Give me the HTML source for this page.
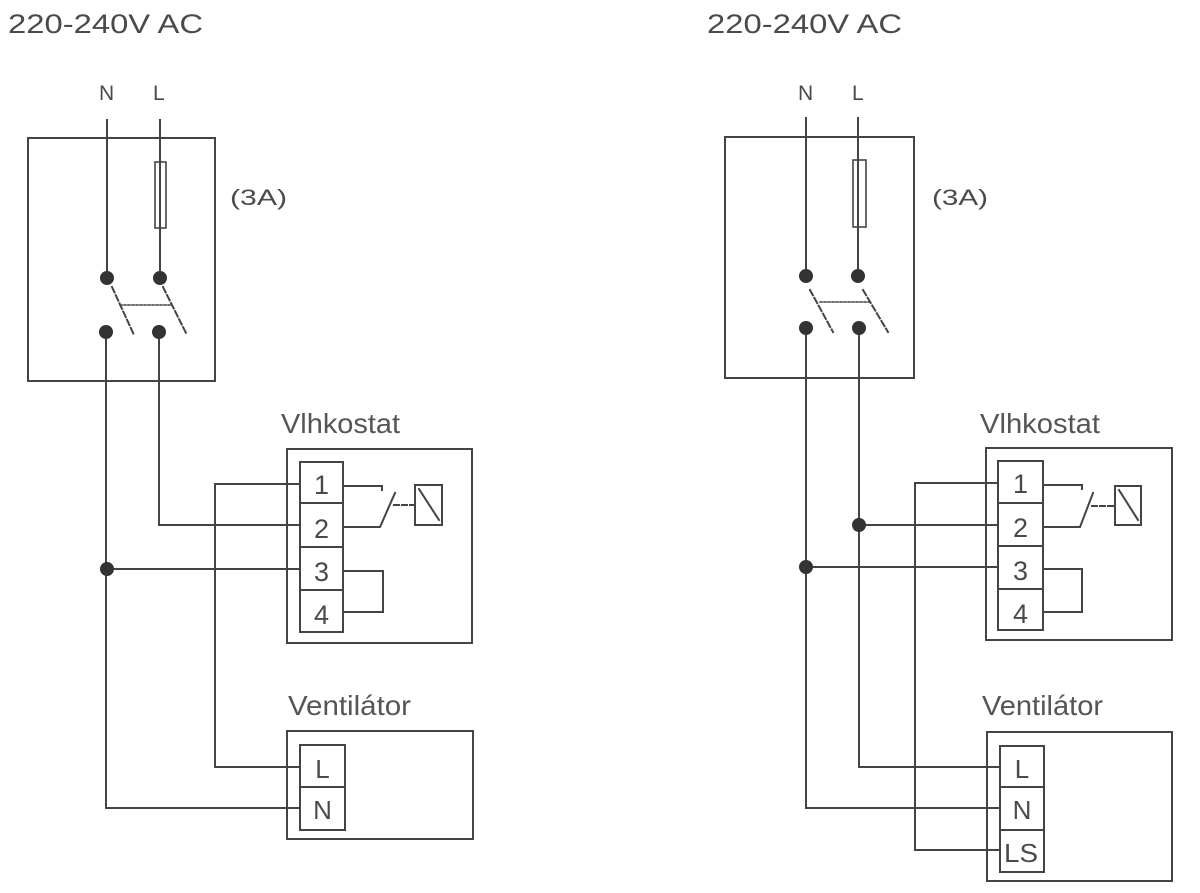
<!DOCTYPE html>
<html>
<head>
<meta charset="utf-8">
<style>
html,body{margin:0;padding:0;background:#fff;}
svg{display:block;}
.t{font-family:"Liberation Sans",sans-serif;fill:#555;}
.m{font-family:"Liberation Sans",sans-serif;fill:#4a4a4a;}
</style>
</head>
<body>
<svg width="1200" height="893" viewBox="0 0 1200 893" xmlns="http://www.w3.org/2000/svg">
<rect width="1200" height="893" fill="#fff"/>
<g stroke="#444" stroke-width="2" fill="none" stroke-linecap="square">

<!-- ============ LEFT DIAGRAM ============ -->
<rect x="28" y="138" width="187" height="243"/>
<line x1="107" y1="120" x2="107" y2="278"/>
<line x1="160" y1="120" x2="160" y2="278"/>
<rect x="155" y="162" width="11" height="66" stroke-width="1.6"/>
<line x1="112" y1="287" x2="134" y2="335" stroke-dasharray="6 3"/>
<line x1="163" y1="287" x2="187" y2="335" stroke-dasharray="6 3"/>
<line x1="120" y1="305" x2="170" y2="305" stroke-dasharray="2 2" stroke-width="1.6"/>
<polyline points="106,332 106,808 300,808"/>
<polyline points="159,332 159,525 300,525"/>
<line x1="107" y1="569" x2="300" y2="569"/>
<polyline points="300,484 215,484 215,767 300,767"/>
<rect x="287" y="449" width="185" height="194"/>
<rect x="300" y="462" width="43" height="170"/>
<line x1="300" y1="503" x2="343" y2="503"/>
<line x1="300" y1="547" x2="343" y2="547"/>
<line x1="300" y1="590" x2="343" y2="590"/>
<polyline points="343,486 382,486 382,490"/>
<polyline points="343,527 380,527 395,493"/>
<line x1="394" y1="505" x2="415" y2="505" stroke-dasharray="5 3"/>
<rect x="415" y="485" width="27" height="40"/>
<line x1="419" y1="489" x2="439" y2="520"/>
<polyline points="343,571 383,571 383,612 343,612" stroke-dasharray="2 1.5"/>
<rect x="287" y="731" width="186" height="108"/>
<rect x="300" y="745" width="45" height="85"/>
<line x1="300" y1="787" x2="345" y2="787"/>

<!-- ============ RIGHT DIAGRAM ============ -->
<rect x="725" y="137" width="189" height="241"/>
<line x1="806" y1="118" x2="806" y2="276"/>
<line x1="858" y1="118" x2="858" y2="276"/>
<rect x="853" y="160" width="13" height="67" stroke-width="1.6"/>
<line x1="810" y1="290" x2="833" y2="332" stroke-dasharray="6 3"/>
<line x1="863" y1="290" x2="888" y2="332" stroke-dasharray="6 3"/>
<line x1="820" y1="302" x2="870" y2="302" stroke-dasharray="2 2" stroke-width="1.6"/>
<polyline points="806,328 806,808 1000,808"/>
<polyline points="859,328 859,767 1000,767"/>
<line x1="859" y1="525" x2="998" y2="525"/>
<line x1="806" y1="567" x2="998" y2="567"/>
<polyline points="998,483 915,483 915,850 1000,850"/>
<rect x="986" y="448" width="186" height="192"/>
<rect x="998" y="461" width="45" height="169"/>
<line x1="998" y1="503" x2="1043" y2="503"/>
<line x1="998" y1="546" x2="1043" y2="546"/>
<line x1="998" y1="589" x2="1043" y2="589"/>
<polyline points="1043,485 1082,485 1082,489"/>
<polyline points="1043,527 1080,527 1093,493"/>
<line x1="1092" y1="506" x2="1115" y2="506" stroke-dasharray="5 3"/>
<rect x="1115" y="486" width="26" height="39"/>
<line x1="1119" y1="490" x2="1138" y2="520"/>
<polyline points="1043,569 1082,569 1082,612 1043,612" stroke-dasharray="2 1.5"/>
<rect x="987" y="732" width="185" height="149"/>
<rect x="1000" y="746" width="44" height="126"/>
<line x1="1000" y1="787" x2="1044" y2="787"/>
<line x1="1000" y1="830" x2="1044" y2="830"/>
</g>

<g fill="#333">
<circle cx="107" cy="278" r="7"/>
<circle cx="160" cy="278" r="7"/>
<circle cx="106" cy="332" r="7"/>
<circle cx="159" cy="332" r="7"/>
<circle cx="107" cy="569" r="7"/>
<circle cx="806" cy="276" r="7"/>
<circle cx="858" cy="276" r="7"/>
<circle cx="806" cy="328" r="7"/>
<circle cx="859" cy="328" r="7"/>
<circle cx="859" cy="525" r="7"/>
<circle cx="806" cy="567" r="7"/>
</g>

<!-- left text -->
<text class="m" x="8" y="33" font-size="27" textLength="195" lengthAdjust="spacingAndGlyphs">220-240V  AC</text>
<text class="m" x="99" y="100" font-size="21">N</text>
<text class="m" x="153" y="100" font-size="21">L</text>
<text class="m" x="230" y="205" font-size="22" textLength="57" lengthAdjust="spacingAndGlyphs">(3A)</text>
<text class="t" x="281" y="433" font-size="28" textLength="119" lengthAdjust="spacingAndGlyphs">Vlhkostat</text>
<text class="t" x="288" y="715" font-size="28" textLength="123" lengthAdjust="spacingAndGlyphs">Ventilátor</text>
<g class="m" font-size="27" text-anchor="middle">
<text x="321.5" y="494">1</text>
<text x="321.5" y="538">2</text>
<text x="321.5" y="581">3</text>
<text x="321.5" y="624">4</text>
</g>
<g class="m" font-size="26" text-anchor="middle">
<text x="322.5" y="778">L</text>
<text x="322.5" y="819">N</text>
</g>

<!-- right text -->
<text class="m" x="707" y="33" font-size="27" textLength="195" lengthAdjust="spacingAndGlyphs">220-240V  AC</text>
<text class="m" x="798" y="100" font-size="21">N</text>
<text class="m" x="852" y="100" font-size="21">L</text>
<text class="m" x="932" y="205" font-size="22" textLength="56" lengthAdjust="spacingAndGlyphs">(3A)</text>
<text class="t" x="980" y="433" font-size="28" textLength="120" lengthAdjust="spacingAndGlyphs">Vlhkostat</text>
<text class="t" x="982" y="715" font-size="28" textLength="121" lengthAdjust="spacingAndGlyphs">Ventilátor</text>
<g class="m" font-size="27" text-anchor="middle">
<text x="1020.5" y="493">1</text>
<text x="1020.5" y="537">2</text>
<text x="1020.5" y="580">3</text>
<text x="1020.5" y="623">4</text>
</g>
<g class="m" font-size="26" text-anchor="middle">
<text x="1022" y="778">L</text>
<text x="1022" y="819">N</text>
<text x="1021" y="862" textLength="34" lengthAdjust="spacingAndGlyphs">LS</text>
</g>
</svg>
</body>
</html>
